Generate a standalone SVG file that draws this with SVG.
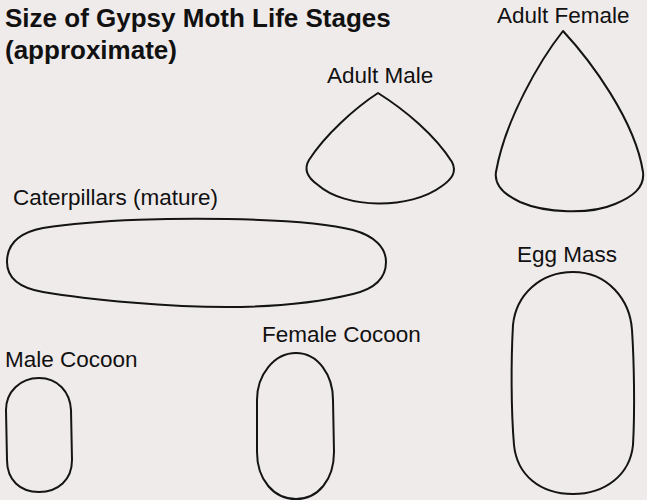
<svg xmlns="http://www.w3.org/2000/svg" width="647" height="500" viewBox="0 0 647 500">
<style>
.bg{fill:#f0ebeb}
.shape{fill:none;stroke:#141414;stroke-width:2;stroke-linejoin:round}
.title{font-family:"Liberation Sans",Arial,sans-serif;font-weight:bold;font-size:26px;fill:#111}
.lbl{font-family:"Liberation Sans",Arial,sans-serif;font-size:22.5px;fill:#111}
</style>
<rect class="bg" x="0" y="0" width="647" height="500"/>
<g id="title">
<text class="title" x="5" y="27">Size of Gypsy Moth Life Stages</text>
<text class="title" x="5" y="59">(approximate)</text>
</g>
<g id="adult-male">
<text class="lbl" x="327" y="83">Adult Male</text>
<path class="shape" d="M378,93 C355,108 325,135 309,160 C303,170 308,178 318,185 C345,209 410,210 442,186 C452,179 457,172 452,162 C435,135 405,110 378,93 Z"/>
</g>
<g id="adult-female">
<text class="lbl" x="497" y="23">Adult Female</text>
<path class="shape" d="M563,31 C540,60 505,120 496,172 C494,185 505,195 520,202 C545,213 590,215 615,204 C632,197 645,188 643,172 C635,120 590,60 563,31 Z"/>
</g>
<g id="caterpillars">
<text class="lbl" x="13" y="205">Caterpillars (mature)</text>
<path class="shape" d="M7,262 C7,242 22,232 43,228 C100,219 180,218 227,219 C280,220 330,224 353,230 C375,236 386,248 386,262 C386,278 374,289 353,294 C320,302 275,307 227,307 C170,307 90,300 43,292 C20,288 7,278 7,262 Z"/>
</g>
<g id="male-cocoon">
<text class="lbl" x="5" y="367">Male Cocoon</text>
<path class="shape" d="M39,378 C58,378 70,392 71,410 L72,460 C72,480 58,492 39,492 C20,492 7,480 7,460 L6,410 C6,392 20,378 39,378 Z"/>
</g>
<g id="female-cocoon">
<text class="lbl" x="262" y="342">Female Cocoon</text>
<path class="shape" d="M296,353 C318,353 333,375 333,400 L334,452 C334,480 318,499 296,499 C274,499 257,480 257,452 L257,400 C257,375 274,353 296,353 Z"/>
</g>
<g id="egg-mass">
<text class="lbl" x="517" y="262">Egg Mass</text>
<path class="shape" d="M573,272 C608,272 630,300 632,330 C634,360 635,410 633,445 C630,475 605,494 573,494 C540,494 517,475 514,445 C511,410 511,360 513,325 C516,295 540,272 573,272 Z"/>
</g>
<g id="connectors"></g>
</svg>
